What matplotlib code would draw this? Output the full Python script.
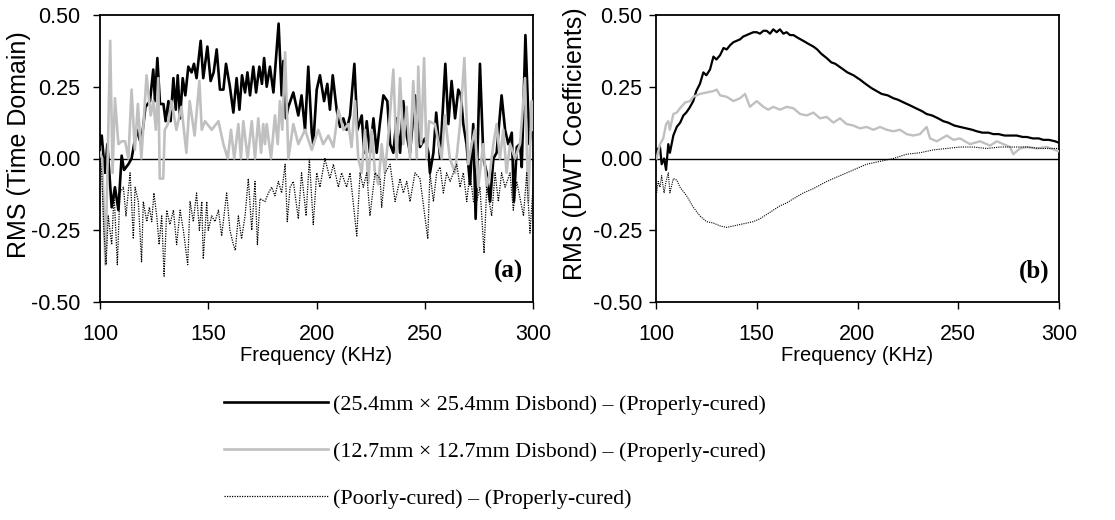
import matplotlib
matplotlib.use("Agg")
import matplotlib.pyplot as plt
from matplotlib.lines import Line2D

# ---------------- (a) RMS of the time-domain signals ----------------
freq_a_large = [
    100.0, 100.8, 102.3, 103.4, 105.4, 106.9, 108.5, 110.0, 111.1, 113.1,
    114.6, 116.9, 119.0, 121.0, 123.1, 124.6, 125.4, 126.5, 127.7, 129.3,
    130.3, 131.6, 132.6, 133.9, 135.0, 135.9, 137.0, 138.2, 139.4, 140.8,
    142.3, 143.4, 144.6, 146.5, 147.7, 149.6, 151.1, 152.5, 153.9, 155.4,
    157.0, 158.2, 160.0, 161.6, 163.1, 164.4, 165.6, 167.0, 168.1, 169.3,
    170.8, 172.1, 173.6, 174.8, 175.8, 177.0, 178.5, 180.1, 182.5, 183.9,
    184.7, 185.9, 187.0, 189.3, 191.6, 193.1, 194.7, 196.2, 197.8, 198.5,
    200.1, 201.6, 203.5, 205.0, 206.2, 207.5, 209.3, 210.9, 212.4, 213.9,
    215.5, 217.5, 218.9, 220.9, 222.0, 223.2, 224.7, 226.3, 227.8, 229.4,
    230.9, 232.7, 234.0, 235.5, 237.0, 238.6, 240.1, 241.7, 243.2, 245.5,
    247.8, 250.1, 251.7, 252.4, 254.0, 255.3, 257.1, 259.5, 260.9, 262.4,
    264.0, 265.5, 266.7, 267.8, 269.3, 270.9, 272.4, 273.5, 275.5, 277.1,
    278.6, 280.2, 281.7, 283.2, 285.5, 287.1, 288.6, 290.2, 291.2, 292.5,
    294.0, 294.8, 296.5, 298.3, 300.0]
rms_a_large = [
    0.05, 0.08, -0.05, 0.05, -0.17, -0.10, -0.18, 0.01, -0.04, -0.02,
    0.00, 0.10, 0.05, 0.18, 0.20, 0.31, 0.20, 0.35, 0.19, 0.19,
    0.13, 0.20, 0.13, 0.28, 0.17, 0.29, 0.14, 0.28, 0.22, 0.32,
    0.30, 0.33, 0.28, 0.41, 0.28, 0.39, 0.27, 0.30, 0.38, 0.24,
    0.24, 0.33, 0.25, 0.16, 0.28, 0.17, 0.29, 0.23, 0.30, 0.22,
    0.32, 0.23, 0.32, 0.26, 0.35, 0.25, 0.32, 0.23, 0.47, 0.22,
    0.34, 0.14, 0.18, 0.23, 0.15, 0.22, 0.10, 0.32, 0.09, 0.05,
    0.24, 0.29, 0.20, 0.26, 0.17, 0.29, 0.17, 0.11, 0.14, 0.10,
    0.15, 0.33, 0.10, 0.15, 0.02, 0.13, 0.02, 0.14, 0.02, 0.13,
    0.22, 0.20, 0.05, 0.02, 0.14, 0.02, 0.20, 0.08, 0.02, 0.22,
    0.04, 0.07, 0.02, -0.05, 0.02, 0.16, 0.00, 0.33, 0.12, 0.27,
    0.14, 0.24, 0.22, 0.12, 0.05, -0.09, 0.12, -0.21, 0.33, 0.00,
    -0.05, -0.15, 0.00, 0.02, 0.22, 0.10, 0.05, 0.09, -0.15, 0.04,
    0.05, -0.03, 0.43, 0.05, 0.14]

freq_a_small = [
    100.0, 101.0, 102.5, 104.7, 105.8, 106.9, 108.5, 110.0, 111.6, 113.1,
    114.6, 116.1, 117.5, 119.1, 121.5, 123.4, 124.6, 125.8, 126.9, 127.6,
    129.2, 129.9, 131.4, 133.0, 135.3, 137.6, 139.9, 141.4, 143.7, 145.9,
    147.0, 148.5, 151.6, 154.7, 157.0, 159.0, 160.5, 162.0, 163.9, 165.1,
    166.2, 168.2, 170.1, 171.6, 173.1, 174.4, 175.4, 176.2, 177.0, 179.0,
    180.8, 182.1, 183.1, 184.2, 185.5, 187.0, 189.3, 191.6, 194.7, 197.8,
    200.8, 203.1, 205.5, 207.8, 210.1, 212.4, 214.7, 216.2, 217.8, 219.3,
    220.9, 222.4, 223.9, 225.5, 227.0, 228.6, 230.1, 231.6, 233.2, 235.5,
    237.0, 238.6, 240.1, 241.6, 243.2, 244.7, 246.3, 247.0, 248.3, 249.7,
    250.8, 252.0, 254.7, 257.8, 259.3, 261.6, 264.0, 266.3, 268.3, 270.1,
    271.7, 273.2, 274.7, 277.0, 278.6, 280.1, 281.7, 283.2, 284.7, 286.3,
    287.8, 289.4, 291.7, 294.0, 296.3, 297.8, 299.4, 300.0]
rms_a_small = [
    0.02, 0.00, -0.37, 0.41, -0.05, 0.21, 0.05, 0.06, 0.06, 0.00,
    0.24, 0.03, 0.19, 0.00, 0.29, 0.15, 0.20, 0.10, 0.28, -0.07,
    -0.07, 0.10, 0.12, 0.20, 0.10, 0.18, 0.02, 0.20, 0.08, 0.27,
    0.10, 0.13, 0.10, 0.13, 0.05, 0.00, 0.10, 0.00, 0.12, 0.00,
    0.13, 0.00, 0.13, 0.00, 0.14, 0.02, 0.12, 0.05, 0.12, 0.00,
    0.15, 0.05, 0.20, 0.10, 0.37, 0.00, 0.12, 0.05, 0.10, 0.03,
    0.10, 0.05, 0.08, 0.04, 0.17, 0.10, 0.12, 0.04, 0.20, 0.00,
    -0.05, 0.10, -0.085, 0.10, -0.05, -0.09, 0.05, -0.05, 0.08, 0.31,
    0.00, 0.28, 0.05, 0.18, 0.00, 0.27, 0.00, 0.32, 0.05, 0.35,
    0.00, 0.13, 0.12, 0.00, 0.15, 0.00, -0.05, 0.12, 0.35, -0.02,
    0.05, 0.10, -0.10, 0.05, -0.10, -0.05, 0.05, 0.12, 0.00, 0.10,
    -0.05, 0.05, 0.00, 0.05, 0.28, -0.15, 0.20, 0.10]

freq_a_poor = [
    100.0, 100.8, 101.8, 102.8, 103.8, 105.4, 106.5, 108.0, 109.2, 110.8,
    112.0, 113.9, 115.4, 116.2, 117.7, 119.2, 120.0, 121.6, 122.8, 123.9,
    124.9, 126.2, 127.3, 128.5, 129.6, 130.8, 132.3, 133.9, 135.4, 137.0,
    138.5, 140.5, 141.6, 143.1, 144.6, 145.9, 147.0, 147.7, 149.3, 150.0,
    151.6, 153.1, 154.7, 156.2, 158.5, 160.0, 161.6, 162.5, 163.9, 165.4,
    167.0, 168.5, 170.1, 171.6, 172.7, 173.9, 176.2, 177.8, 179.3, 180.8,
    182.4, 183.9, 185.5, 186.5, 187.8, 189.3, 191.6, 193.1, 195.2, 196.7,
    198.5, 200.1, 201.6, 203.9, 206.2, 207.8, 210.1, 211.6, 213.9, 215.5,
    218.6, 220.1, 221.6, 223.2, 224.7, 227.0, 229.4, 230.1, 231.7, 234.0,
    236.3, 238.6, 240.1, 241.7, 243.2, 245.5, 247.8, 251.4, 252.4, 254.0,
    255.5, 257.1, 258.6, 260.1, 261.7, 264.8, 266.3, 267.8, 269.4, 270.9,
    272.5, 274.0, 275.5, 277.4, 278.6, 280.9, 282.5, 284.0, 285.5, 287.1,
    289.4, 290.9, 292.5, 295.6, 297.1, 298.6, 300.0]
rms_a_poor = [
    0.00, -0.05, -0.25, -0.37, -0.20, -0.30, -0.12, -0.37, -0.12, -0.10,
    -0.20, -0.05, -0.28, -0.10, -0.15, -0.36, -0.15, -0.22, -0.17, -0.22,
    -0.12, -0.20, -0.30, -0.20, -0.41, -0.18, -0.23, -0.18, -0.30, -0.18,
    -0.25, -0.37, -0.15, -0.22, -0.12, -0.25, -0.15, -0.35, -0.15, -0.25,
    -0.20, -0.22, -0.18, -0.27, -0.12, -0.25, -0.30, -0.32, -0.20, -0.28,
    -0.20, -0.07, -0.25, -0.08, -0.30, -0.14, -0.15, -0.12, -0.10, -0.13,
    -0.08, -0.12, -0.02, -0.22, -0.10, -0.08, -0.21, -0.05, -0.20, 0.00,
    -0.23, -0.05, -0.10, 0.00, -0.07, -0.02, -0.10, -0.05, -0.10, -0.05,
    -0.27, -0.05, -0.10, -0.05, -0.20, -0.05, -0.07, -0.17, -0.05, -0.02,
    -0.15, -0.07, -0.12, -0.08, -0.15, -0.05, -0.07, -0.28, -0.05, -0.15,
    -0.05, -0.03, -0.12, -0.05, -0.08, -0.02, -0.10, -0.05, -0.15, -0.05,
    -0.15, -0.15, -0.10, -0.33, -0.10, -0.20, -0.05, -0.15, -0.05, -0.10,
    -0.05, -0.18, -0.08, -0.20, -0.05, -0.26, -0.10]

# ---------------- (b) RMS of the DWT coefficients ----------------
freq_b_large = [
    100.3, 102.0, 102.8, 104.0, 105.0, 106.1, 106.9, 108.6, 110.3, 112.0,
    113.6, 115.0, 116.5, 118.5, 120.0, 121.8, 123.5, 125.0, 126.8, 128.5,
    130.0, 131.8, 133.5, 135.1, 136.8, 138.4, 140.0, 141.7, 143.3, 145.0,
    146.6, 148.3, 150.0, 151.6, 153.3, 154.9, 156.6, 158.2, 159.9, 161.5,
    163.2, 164.8, 166.5, 168.2, 170.5, 173.1, 175.5, 178.1, 180.0, 182.0,
    184.7, 187.0, 189.0, 191.0, 193.0, 195.0, 198.0, 201.2, 204.0, 207.0,
    209.5, 212.0, 215.0, 217.8, 220.0, 223.0, 226.1, 229.0, 232.0, 234.3,
    237.0, 240.0, 242.6, 245.0, 248.0, 250.9, 254.0, 257.0, 259.1, 262.0,
    265.0, 267.4, 270.0, 273.0, 275.7, 279.0, 282.0, 284.0, 287.0, 290.0,
    292.2, 295.0, 298.0, 300.0]
rms_b_large = [
    0.03, 0.04, -0.02, 0.00, -0.04, 0.05, 0.02, 0.08, 0.11, 0.125,
    0.15, 0.16, 0.175, 0.20, 0.235, 0.26, 0.30, 0.29, 0.31, 0.355,
    0.345, 0.36, 0.385, 0.38, 0.395, 0.405, 0.41, 0.415, 0.425, 0.43,
    0.435, 0.44, 0.44, 0.435, 0.445, 0.445, 0.435, 0.45, 0.44, 0.45,
    0.435, 0.44, 0.43, 0.43, 0.42, 0.41, 0.40, 0.39, 0.38, 0.365,
    0.35, 0.335, 0.33, 0.32, 0.31, 0.30, 0.29, 0.275, 0.26, 0.245,
    0.235, 0.225, 0.22, 0.21, 0.205, 0.195, 0.185, 0.175, 0.165, 0.155,
    0.15, 0.14, 0.13, 0.125, 0.115, 0.11, 0.105, 0.10, 0.095, 0.09,
    0.09, 0.085, 0.085, 0.08, 0.08, 0.08, 0.075, 0.075, 0.07, 0.07,
    0.065, 0.065, 0.06, 0.055]

freq_b_small = [
    100.3, 102.0, 103.6, 105.0, 106.1, 106.9, 108.6, 110.3, 111.9, 114.4,
    116.9, 118.5, 121.8, 125.1, 128.5, 130.1, 131.8, 135.1, 138.4, 141.7,
    144.2, 146.6, 150.0, 153.3, 155.7, 158.2, 161.5, 164.8, 168.2, 171.5,
    174.8, 178.1, 181.4, 184.7, 188.0, 191.3, 194.6, 197.9, 201.2, 204.5,
    207.9, 211.2, 214.5, 217.8, 221.1, 224.4, 227.7, 231.0, 234.3, 236.0,
    239.3, 244.3, 247.6, 250.9, 255.8, 260.8, 265.8, 269.1, 272.4, 275.7,
    277.3, 280.6, 284.0, 288.9, 293.9, 300.0]
rms_b_small = [
    0.00, 0.05, 0.07, 0.12, 0.13, 0.10, 0.155, 0.16, 0.175, 0.195,
    0.20, 0.215, 0.225, 0.23, 0.235, 0.24, 0.22, 0.215, 0.20, 0.21,
    0.225, 0.18, 0.20, 0.18, 0.17, 0.18, 0.17, 0.18, 0.175, 0.155,
    0.15, 0.16, 0.14, 0.145, 0.125, 0.14, 0.12, 0.115, 0.105, 0.11,
    0.10, 0.11, 0.10, 0.095, 0.10, 0.085, 0.08, 0.085, 0.11, 0.07,
    0.06, 0.08, 0.065, 0.07, 0.05, 0.06, 0.045, 0.06, 0.05, 0.04,
    0.015, 0.035, 0.04, 0.035, 0.04, 0.025]

freq_b_poor = [
    100.3, 101.1, 102.0, 102.8, 104.0, 105.0, 106.1, 106.9, 108.6, 110.3,
    111.9, 115.2, 118.5, 121.8, 125.1, 128.5, 131.8, 135.1, 138.4, 141.7,
    145.0, 148.3, 151.6, 154.9, 158.2, 161.5, 164.8, 168.2, 173.1, 178.1,
    184.7, 191.3, 197.9, 204.5, 211.2, 217.8, 224.4, 231.0, 237.6, 244.3,
    250.9, 257.5, 264.1, 270.7, 277.3, 284.0, 290.6, 300.0]
rms_b_poor = [
    -0.12, -0.08, -0.10, -0.06, -0.12, -0.08, -0.05, -0.12, -0.07, -0.075,
    -0.10, -0.13, -0.17, -0.20, -0.22, -0.225, -0.235, -0.24, -0.235, -0.23,
    -0.225, -0.22, -0.21, -0.195, -0.18, -0.165, -0.155, -0.14, -0.12, -0.105,
    -0.08, -0.06, -0.04, -0.02, -0.01, 0.00, 0.015, 0.02, 0.03, 0.035,
    0.04, 0.04, 0.035, 0.04, 0.04, 0.04, 0.035, 0.035]

x_ticks = [100, 150, 200, 250, 300]
y_ticks = [-0.50, -0.25, 0.00, 0.25, 0.50]
y_labels = ["RMS (Time Domain)", "RMS (DWT Coefficients)"]
panel_tags = ["(a)", "(b)"]
legend_labels = [
    "(25.4mm \u00d7 25.4mm Disbond) \u2013 (Properly-cured)",
    "(12.7mm \u00d7 12.7mm Disbond) \u2013 (Properly-cured)",
    "(Poorly-cured) \u2013 (Properly-cured)",
]

SANS = "Liberation Sans"
SERIF = "Liberation Serif"
GREY = "#c0c0c0"
DOT = (0, (1.0, 1.0))

W, H = 1115, 520
fig = plt.figure(figsize=(W / 100, H / 100), dpi=100)
fig.patch.set_facecolor("white")

def px_axes(x0, x1, y0, y1):
    return fig.add_axes([x0 / W, (H - y1) / H, (x1 - x0) / W, (y1 - y0) / H])

ax_a = px_axes(100, 533, 15, 302)
ax_b = px_axes(656, 1059, 15, 302)

# panel (a)
ax_a.plot(freq_a_large, rms_a_large, color="black", lw=1.9, zorder=3)
ax_a.plot(freq_a_small, rms_a_small, color=GREY, lw=1.9, zorder=4)
ax_a.plot(freq_a_poor, rms_a_poor, color="black", lw=0.9, ls=DOT, zorder=5)

# panel (b)
ax_b.plot(freq_b_large, rms_b_large, color="black", lw=1.6, zorder=3)
ax_b.plot(freq_b_small, rms_b_small, color=GREY, lw=1.7, zorder=4)
ax_b.plot(freq_b_poor, rms_b_poor, color="black", lw=0.8, ls=DOT, zorder=5)

for ax, ylab, tag, ypad in zip([ax_a, ax_b], y_labels, panel_tags, [9, 5]):
    ax.set_xlim(100, 300)
    ax.set_ylim(-0.5, 0.5)
    ax.axhline(0, color="black", lw=1.0, zorder=2)
    ax.set_xticks(x_ticks)
    ax.set_yticks(y_ticks)
    ax.set_xticklabels([str(v) for v in x_ticks])
    ax.set_yticklabels(["%.2f" % v for v in y_ticks])
    for lab in ax.get_xticklabels() + ax.get_yticklabels():
        lab.set_fontfamily(SANS)
        lab.set_fontsize(15.5)
    ax.tick_params(axis="both", direction="out", length=5, width=1.0, color="black")
    ax.tick_params(axis="x", pad=11)
    ax.tick_params(axis="y", pad=ypad)
    for sp in ax.spines.values():
        sp.set_linewidth(1.3)
        sp.set_color("black")
    ax.set_xlabel("Frequency (KHz)", fontfamily=SANS, fontsize=14.5)
    ax.xaxis.set_label_coords(0.5, -0.155)
    ax.set_ylabel(ylab, fontfamily=SANS, fontsize=18)
    ax.text(0.977, 0.065, tag, transform=ax.transAxes, ha="right", va="bottom",
            fontfamily=SERIF, fontweight="bold", fontsize=18)

ax_a.yaxis.set_label_coords(-0.16, 0.55)
ax_b.yaxis.set_label_coords(-0.17, 0.55)

handles = [
    Line2D([], [], color="black", lw=1.9),
    Line2D([], [], color=GREY, lw=1.9),
    Line2D([], [], color="black", lw=0.9, ls=DOT),
]
fig.legend(handles, legend_labels, loc="center left",
           bbox_to_anchor=(224 / W, (H - 451.5) / H), frameon=False,
           prop={"family": SERIF, "size": 15.8}, handlelength=4.75,
           handletextpad=0.23, labelspacing=1.22, borderpad=0, borderaxespad=0)

fig.savefig("out.png", dpi=100, facecolor="white")
